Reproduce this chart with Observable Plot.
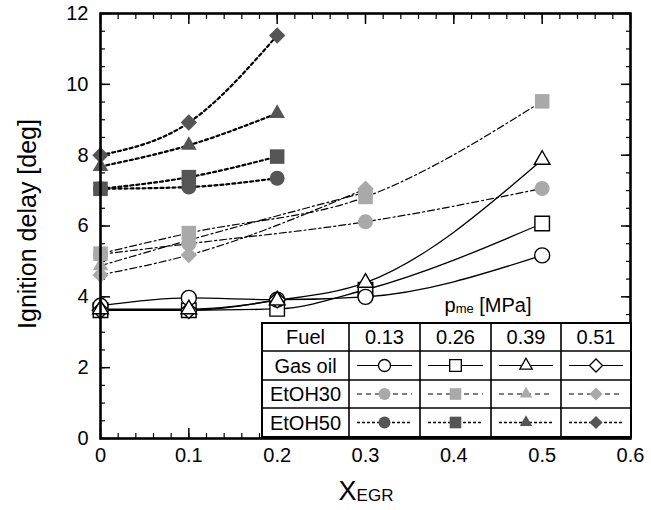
<!DOCTYPE html>
<html><head><meta charset="utf-8">
<script src="https://cdn.jsdelivr.net/npm/d3@7"></script>
<script src="https://cdn.jsdelivr.net/npm/@observablehq/plot@0.6"></script>
<style>body{margin:0;background:#fff;}</style>
</head><body><div id="chart"></div>
<script>
// ---- data ----
const pmeLevels = ["0.13", "0.26", "0.39", "0.51"];
const fuels = ["Gas oil", "EtOH30", "EtOH50"];
const xTicks = [0, 0.1, 0.2, 0.3, 0.4, 0.5, 0.6];
const yTicks = [0, 2, 4, 6, 8, 10, 12];

// Gas oil (x = XEGR)
const xGasOil = [0, 0.1, 0.2, 0.3, 0.5];
const gasOil013 = [3.75, 3.97, 3.92, 4.0, 5.17];
const gasOil026 = [3.62, 3.62, 3.66, 4.2, 6.07];
const gasOil039 = [3.65, 3.65, 3.9, 4.4, 7.87];
const xGasOil051 = [0, 0.1, 0.2];
const gasOil051 = [3.62, 3.62, 3.92];

// EtOH30
const xEtOH30a = [0, 0.1, 0.3, 0.5];
const etoh30_013 = [5.2, 5.5, 6.12, 7.06];
const etoh30_026 = [5.22, 5.8, 6.82, 9.52];
const xEtOH30b = [0, 0.1, 0.3];
const etoh30_039 = [4.88, 5.6, 6.95];
const etoh30_051 = [4.62, 5.18, 7.05];

// EtOH50
const xEtOH50 = [0, 0.1, 0.2];
const etoh50_013 = [7.05, 7.1, 7.35];
const etoh50_026 = [7.05, 7.38, 7.96];
const etoh50_039 = [7.68, 8.28, 9.18];
const etoh50_051 = [8.0, 8.92, 11.38];

// ---- build table ----
const seriesDefs = [
  ["Gas oil", "0.13", xGasOil, gasOil013],
  ["Gas oil", "0.26", xGasOil, gasOil026],
  ["Gas oil", "0.39", xGasOil, gasOil039],
  ["Gas oil", "0.51", xGasOil051, gasOil051],
  ["EtOH30", "0.13", xEtOH30a, etoh30_013],
  ["EtOH30", "0.26", xEtOH30a, etoh30_026],
  ["EtOH30", "0.39", xEtOH30b, etoh30_039],
  ["EtOH30", "0.51", xEtOH30b, etoh30_051],
  ["EtOH50", "0.13", xEtOH50, etoh50_013],
  ["EtOH50", "0.26", xEtOH50, etoh50_026],
  ["EtOH50", "0.39", xEtOH50, etoh50_039],
  ["EtOH50", "0.51", xEtOH50, etoh50_051]
];
const rows = seriesDefs.flatMap(([fuel, pme, xs, ys]) =>
  xs.map((x, i) => ({fuel, pme, key: fuel + pme, x, y: ys[i]})));

// ---- styles ----
const symbolOf = {"0.13": "circle", "0.26": "square", "0.39": "triangle", "0.51": "diamond2"};
const rOf = {"0.13": 7.5, "0.26": 8.2, "0.39": 5.8, "0.51": 7.4};
const fillOf = {"Gas oil": "#fff", "EtOH30": "#a9a9a9", "EtOH50": "#555555"};
const dashOf = {"Gas oil": null, "EtOH30": "7,3,2,3", "EtOH50": "3,3"};
const lineWOf = {"Gas oil": 1.3, "EtOH30": 1.2, "EtOH50": 2.2};
const FONT = "'Liberation Sans', Arial, Helvetica, sans-serif";

const minorY = d3.range(0, 24.5).map(i => i * 0.5);
const minorX = d3.range(0, 31).map(i => +(i * 0.02).toFixed(2));

const lineMarks = fuels.map(f => Plot.line(rows.filter(d => d.fuel === f), {
  x: "x", y: "y", z: "key", curve: "monotone-x",
  stroke: "#000", strokeWidth: lineWOf[f], strokeDasharray: dashOf[f]
}));
const dotMarks = fuels.map(f => Plot.dot(rows.filter(d => d.fuel === f), {
  x: "x", y: "y", symbol: d => symbolOf[d.pme], r: d => rOf[d.pme],
  fill: fillOf[f], stroke: f === "Gas oil" ? "#000" : "none", strokeWidth: 1.4
}));

const chart = Plot.plot({
  width: 651, height: 510,
  marginLeft: 100, marginRight: 21, marginTop: 13, marginBottom: 72,
  style: {fontFamily: FONT, fontSize: "20px", color: "#000", background: "#fff"},
  x: {domain: [0, 0.6]},
  y: {domain: [0, 12]},
  r: {type: "identity"},
  symbol: {type: "identity"},
  marks: [
    Plot.axisY(minorY, {anchor: "left", tickSize: -5, text: null, label: null, strokeWidth: 1.2}),
    Plot.axisY(minorY, {anchor: "right", tickSize: -5, text: null, label: null, strokeWidth: 1.2}),
    Plot.axisY(yTicks, {anchor: "left", tickSize: -10, text: null, label: null, strokeWidth: 1.5}),
    Plot.axisY(yTicks, {anchor: "right", tickSize: -10, text: null, label: null, strokeWidth: 1.5}),
    Plot.axisY(yTicks, {anchor: "left", tickSize: 0, tickPadding: 12, label: null, tickFormat: d => String(d)}),
    Plot.axisX(minorX, {anchor: "bottom", tickSize: -5, text: null, label: null, strokeWidth: 1.2}),
    Plot.axisX(minorX, {anchor: "top", tickSize: -5, text: null, label: null, strokeWidth: 1.2}),
    Plot.axisX(xTicks, {anchor: "bottom", tickSize: -10, text: null, label: null, strokeWidth: 1.5}),
    Plot.axisX(xTicks, {anchor: "top", tickSize: -10, text: null, label: null, strokeWidth: 1.5}),
    Plot.axisX(xTicks, {anchor: "bottom", tickSize: 0, tickPadding: 9, label: null, tickFormat: d => String(d)}),
    ...lineMarks,
    ...dotMarks,
    Plot.frame({stroke: "#000", strokeWidth: 2.6})
  ]
});
document.getElementById("chart").append(chart);

// ---- axis titles & legend table (layout) ----
const svg = d3.select(chart);
svg.append("text")
  .attr("transform", "translate(36,224) rotate(-90)")
  .attr("text-anchor", "middle").attr("font-family", FONT).attr("font-size", 25)
  .attr("fill", "#000").text("Ignition delay [deg]");
const xLab = svg.append("text").attr("x", 366).attr("y", 500)
  .attr("text-anchor", "middle").attr("font-family", FONT).attr("fill", "#000");
xLab.append("tspan").attr("font-size", 27).text("X");
xLab.append("tspan").attr("font-size", 17).attr("dy", 1).text("EGR");

const colX = [262, 349, 420, 491, 561, 631];
const rowY = [323, 351, 380, 408, 437];
const lg = svg.append("g").attr("font-family", FONT).attr("font-size", 20).attr("fill", "#000");
lg.append("rect").attr("x", colX[0]).attr("y", rowY[0])
  .attr("width", colX[5] - colX[0]).attr("height", rowY[4] - rowY[0])
  .attr("fill", "#fff").attr("stroke", "#000").attr("stroke-width", 2);
colX.slice(1, 5).forEach(x => lg.append("line").attr("x1", x).attr("x2", x)
  .attr("y1", rowY[0]).attr("y2", rowY[4]).attr("stroke", "#000").attr("stroke-width", 1.6));
rowY.slice(1, 4).forEach(y => lg.append("line").attr("x1", colX[0]).attr("x2", colX[5])
  .attr("y1", y).attr("y2", y).attr("stroke", "#000").attr("stroke-width", 1.6));
const ptitle = lg.append("text").attr("x", 488).attr("y", 312).attr("text-anchor", "middle");
ptitle.append("tspan").text("p");
ptitle.append("tspan").attr("font-size", 13).attr("dy", 1).text("me");
ptitle.append("tspan").attr("dy", -1).text(" [MPa]");
const header = ["Fuel", ...pmeLevels];
header.forEach((t, i) => lg.append("text").attr("x", (colX[i] + colX[i + 1]) / 2)
  .attr("y", (rowY[0] + rowY[1]) / 2 + 7).attr("text-anchor", "middle").text(t));
const d3sym = {"circle": d3.symbolCircle, "square": d3.symbolSquare, "triangle": d3.symbolTriangle, "diamond2": d3.symbolDiamond2};
fuels.forEach((f, ri) => {
  const cy = (rowY[ri + 1] + rowY[ri + 2]) / 2;
  lg.append("text").attr("x", (colX[0] + colX[1]) / 2).attr("y", cy + 7)
    .attr("text-anchor", "middle").text(f);
  pmeLevels.forEach((p, ci) => {
    const x0 = colX[ci + 1], x1 = colX[ci + 2], cx = (x0 + x1) / 2;
    lg.append("line").attr("x1", x0 + 8).attr("x2", x1 - 8).attr("y1", cy).attr("y2", cy)
      .attr("stroke", "#000").attr("stroke-width", f === "EtOH50" ? 1.6 : 1.2)
      .attr("stroke-dasharray", f === "Gas oil" ? null : (f === "EtOH30" ? "5,4" : "3,2"));
    const rr = rOf[p] * 0.8;
    lg.append("path").attr("transform", `translate(${cx},${cy})`)
      .attr("d", d3.symbol(d3sym[symbolOf[p]], Math.PI * rr * rr)())
      .attr("fill", fillOf[f]).attr("stroke", f === "Gas oil" ? "#000" : "none").attr("stroke-width", 1.3);
  });
});
</script>
</body></html>
